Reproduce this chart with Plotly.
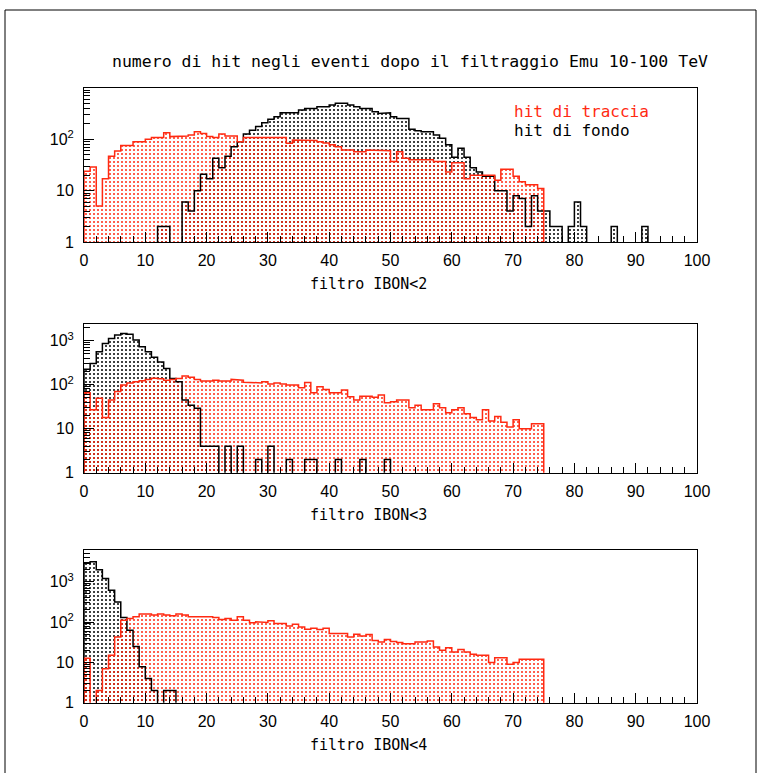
import plotly.graph_objects as go

W, H = 763, 773

# ---------------- data (bin contents, bins of width 1 starting at 0) ----------------
red1 = [24, 29, 5, 17, 47, 59, 76, 76, 90, 90,
        100, 109, 109, 135, 113, 116, 116, 121, 141, 130,
        113, 109, 127, 116, 116, 90, 109, 109, 109, 109,
        109, 109, 109, 84, 97, 97, 97, 95, 90, 85,
        78, 72, 62, 62, 57, 57, 62, 62, 62, 60,
        37, 57, 43, 40, 40, 40, 40, 37, 37, 23,
        35, 35, 17, 20, 20, 20, 20, 16, 26, 26,
        19, 15, 13, 13, 11]
black1 = [0, 0, 0, 0, 0, 0, 0, 0, 0, 0,
          0, 0, 2, 2, 0, 0, 6, 4, 10, 21,
          17, 43, 28, 47, 72, 90, 127, 150, 177, 211,
          245, 276, 330, 330, 330, 372, 400, 400, 433, 433,
          467, 505, 505, 467, 433, 400, 400, 346, 320, 330,
          276, 256, 256, 157, 147, 141, 141, 121, 105, 78,
          45, 67, 45, 28, 23, 19, 19, 10, 10, 4,
          8, 7, 2, 8, 4, 4, 2, 2, 0, 2,
          6, 2, 0, 0, 0, 0, 2, 0, 0, 0,
          0, 2]
red2 = [66, 27, 49, 18, 45, 70, 98, 110, 117, 123,
        132, 141, 137, 127, 132, 139, 157, 147, 132, 121,
        121, 127, 121, 121, 132, 127, 114, 114, 110, 117,
        104, 110, 104, 98, 98, 85, 112, 66, 90, 78,
        66, 66, 76, 53, 45, 55, 55, 52, 58, 39,
        41, 45, 45, 30, 34, 27, 27, 37, 30, 23,
        27, 30, 22, 18, 16, 27, 15, 19, 14, 11,
        16, 10, 10, 13, 13]
black2 = [224, 305, 560, 870, 1130, 1350, 1450, 1400, 1040, 730,
          560, 420, 330, 235, 139, 117, 45, 34, 29, 4,
          4, 4, 0, 4, 0, 4, 0, 0, 2, 0,
          4, 0, 0, 2, 0, 0, 2, 2, 0, 0,
          0, 2, 0, 0, 0, 2, 0, 0, 0, 2]
red3 = [12.6, 0, 2, 7, 15, 43, 112, 123, 135, 158,
        158, 150, 158, 150, 143, 158, 150, 135, 135, 140,
        135, 130, 116, 123, 112, 135, 112, 96, 102, 98,
        108, 93, 93, 80, 89, 76, 67, 70, 66, 70,
        52, 52, 52, 43, 50, 45, 49, 35, 32, 37,
        33, 31, 29, 29, 32, 32, 34, 24, 20, 23,
        18, 21, 18, 16, 15, 15, 10, 13, 13, 9,
        10, 12, 12, 12, 12]
black3 = [2900, 3150, 2000, 1210, 620, 318, 130, 63, 25, 7.8,
          4, 2, 0, 2, 2]

title_text = "numero di hit negli eventi dopo il filtraggio Emu 10-100 TeV"
legend_labels = ["hit di traccia", "hit di fondo"]
x_titles = ["filtro IBON<2", "filtro IBON<3", "filtro IBON<4"]
x_ticks = [0, 10, 20, 30, 40, 50, 60, 70, 80, 90, 100]

RED = "#ff2a12"
BLACK = "#000000"

panels = [
    dict(top=88, bottom=242, ymax=3.0, tv=[1, 10, 100], red=red1, black=black1),
    dict(top=324, bottom=472.7, ymax=3.38, tv=[1, 10, 100, 1000], red=red2, black=black2),
    dict(top=550, bottom=702.7, ymax=3.79, tv=[1, 10, 100, 1000], red=red3, black=black3),
]
tt = {1: "1", 10: "10", 100: "10<sup>2</sup>", 1000: "10<sup>3</sup>"}
minor_vals = [m * 10 ** e for e in range(0, 4) for m in range(2, 10)]

X0, X1 = 84, 697
FLOOR = 1e-3

fig = go.Figure()


def add_hist(vals, color, k, layer):
    xa = "x" if k == 1 else f"x{k}"
    ya = "y" if k == 1 else f"y{k}"
    n = len(vals)
    if layer == "fill":
        fig.add_trace(go.Bar(
            x=[i + 0.5 for i in range(n)],
            y=[v if v > 0 else None for v in vals],
            width=1,
            marker=dict(color=color, line=dict(width=0),
                        pattern=dict(shape=".", size=4, solidity=0.2,
                                     fgcolor=color, fillmode="replace")),
            xaxis=xa, yaxis=ya, showlegend=False, hoverinfo="skip"))
    else:
        xs, ys = [0], [FLOOR]
        for i, v in enumerate(vals):
            yv = v if v > 0 else FLOOR
            xs += [i, i + 1]
            ys += [yv, yv]
        xs.append(n)
        ys.append(FLOOR)
        fig.add_trace(go.Scatter(x=xs, y=ys, mode="lines",
                                 line=dict(color=color, width=1.5),
                                 xaxis=xa, yaxis=ya, showlegend=False,
                                 hoverinfo="skip"))


for k, p in enumerate(panels, start=1):
    add_hist(p["black"], BLACK, k, "fill")
    add_hist(p["red"], RED, k, "fill")
    add_hist(p["black"], BLACK, k, "line")
    add_hist(p["red"], RED, k, "line")

tickfont = dict(family="Liberation Sans", size=16, color="black")
layout = dict(
    template="none",
    width=W, height=H, autosize=False,
    margin=dict(l=0, r=0, t=0, b=0, pad=0, autoexpand=False),
    paper_bgcolor="white", plot_bgcolor="white",
    barmode="overlay", bargap=0,
    showlegend=False,
)
for k, p in enumerate(panels, start=1):
    xk = "xaxis" if k == 1 else f"xaxis{k}"
    yk = "yaxis" if k == 1 else f"yaxis{k}"
    layout[xk] = dict(
        domain=[X0 / W, X1 / W], range=[0, 100], automargin=False,
        anchor="y" if k == 1 else f"y{k}",
        showline=True, linecolor="black", linewidth=1, mirror=True,
        ticks="inside", ticklen=10, tickwidth=1, tickcolor="black",
        tickvals=x_ticks, ticktext=[str(v) for v in x_ticks],
        minor=dict(ticks="inside", ticklen=6, tickwidth=1, tickcolor="black",
                   dtick=2, tick0=0, showgrid=False),
        showgrid=False, zeroline=False, tickfont=tickfont,
        ticklabelstandoff=4,
    )
    layout[yk] = dict(
        domain=[1 - p["bottom"] / H, 1 - p["top"] / H],
        type="log", range=[0, p["ymax"]], automargin=False,
        anchor="x" if k == 1 else f"x{k}",
        showline=True, linecolor="black", linewidth=1, mirror=True,
        ticks="inside", ticklen=10, tickwidth=1, tickcolor="black",
        tickvals=p["tv"], ticktext=[tt[v] for v in p["tv"]],
        minor=dict(ticks="inside", ticklen=6, tickwidth=1, tickcolor="black",
                   tickvals=minor_vals, showgrid=False),
        showgrid=False, zeroline=False, tickfont=tickfont,
        ticklabelstandoff=6,
    )

mono = "DejaVu Sans Mono"
annotations = [
    dict(text=title_text, x=410 / W, y=1 - 62 / H, xref="paper", yref="paper",
         showarrow=False, xanchor="center", yanchor="middle",
         font=dict(family=mono, size=16.5, color="black")),
    dict(text=legend_labels[0], x=512 / W, y=1 - 111 / H, xref="paper", yref="paper",
         showarrow=False, xanchor="left", yanchor="middle",
         font=dict(family=mono, size=16, color=RED)),
    dict(text=legend_labels[1], x=512 / W, y=1 - 130 / H, xref="paper", yref="paper",
         showarrow=False, xanchor="left", yanchor="middle",
         font=dict(family=mono, size=16, color="black")),
]
for t, yy in zip(x_titles, [284, 515, 745]):
    annotations.append(dict(text=t, x=368 / W, y=1 - yy / H, xref="paper", yref="paper",
                            showarrow=False, xanchor="center", yanchor="middle",
                            font=dict(family=mono, size=15, color="black")))
layout["annotations"] = annotations
frame = dict(xref="paper", yref="paper", type="line",
             line=dict(color="black", width=1))
layout["shapes"] = [
    dict(frame, x0=5 / W, x1=5 / W, y0=0, y1=1 - 10 / H),
    dict(frame, x0=5 / W, x1=756 / W, y0=1 - 10 / H, y1=1 - 10 / H),
    dict(frame, x0=756 / W, x1=756 / W, y0=0, y1=1 - 10 / H),
]

fig.update_layout(**layout)
fig.write_html("out.html", config={"displayModeBar": False},
               post_script="document.documentElement.style.margin='0px';"
                           "document.body.style.margin='0px';"
                           "document.body.style.overflow='hidden';")
